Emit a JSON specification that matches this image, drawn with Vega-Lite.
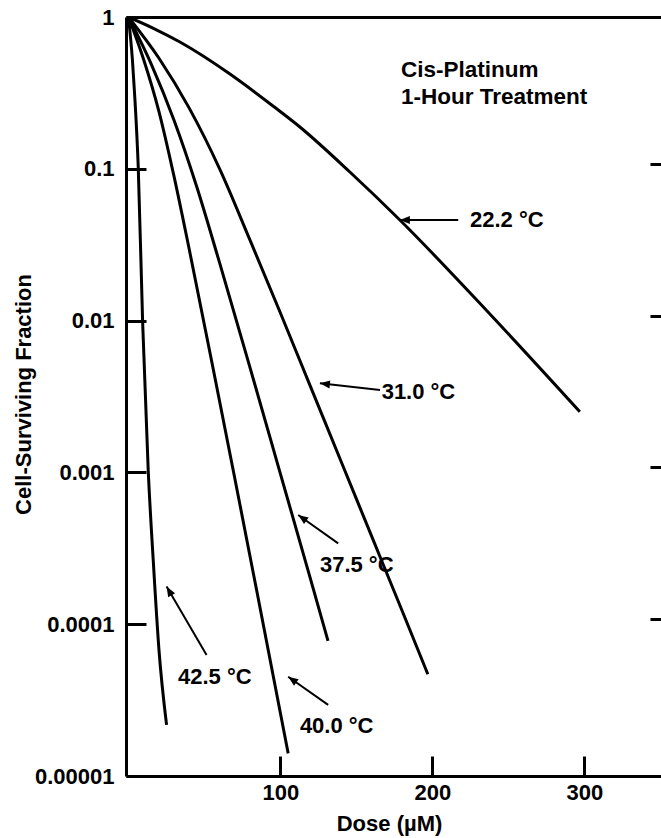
{
  "$schema": "https://vega.github.io/schema/vega-lite/v6.json",
  "width": 535,
  "height": 759,
  "autosize": {"type": "none"},
  "padding": {"left": 126, "top": 17, "right": 0, "bottom": 62},
  "background": "white",
  "config": {
    "view": {"stroke": null},
    "font": "Liberation Sans",
    "axis": {"grid": false, "domainColor": "black", "tickColor": "black", "labelColor": "black", "titleColor": "black"}
  },
  "datasets": {
    "curves": [
      {"temperature": "22.2", "dose": 0, "fraction": 1},
      {"temperature": "22.2", "dose": 16.1, "fraction": 0.846},
      {"temperature": "22.2", "dose": 33.9, "fraction": 0.684},
      {"temperature": "22.2", "dose": 66.8, "fraction": 0.421},
      {"temperature": "22.2", "dose": 95.1, "fraction": 0.2593},
      {"temperature": "22.2", "dose": 112.8, "fraction": 0.1886},
      {"temperature": "22.2", "dose": 145.7, "fraction": 0.0953},
      {"temperature": "22.2", "dose": 178.6, "fraction": 0.046},
      {"temperature": "22.2", "dose": 237.8, "fraction": 0.01105},
      {"temperature": "22.2", "dose": 297, "fraction": 0.00251},
      {"temperature": "31.0", "dose": 0, "fraction": 1},
      {"temperature": "31.0", "dose": 20, "fraction": 0.537},
      {"temperature": "31.0", "dose": 40, "fraction": 0.251},
      {"temperature": "31.0", "dose": 60, "fraction": 0.1},
      {"temperature": "31.0", "dose": 80, "fraction": 0.0339},
      {"temperature": "31.0", "dose": 100, "fraction": 0.01122},
      {"temperature": "31.0", "dose": 120, "fraction": 0.00363},
      {"temperature": "31.0", "dose": 140, "fraction": 0.001175},
      {"temperature": "31.0", "dose": 160, "fraction": 0.00038},
      {"temperature": "31.0", "dose": 180, "fraction": 0.000123},
      {"temperature": "31.0", "dose": 197, "fraction": 0.0000468},
      {"temperature": "37.5", "dose": 0, "fraction": 1},
      {"temperature": "37.5", "dose": 15, "fraction": 0.49},
      {"temperature": "37.5", "dose": 30, "fraction": 0.209},
      {"temperature": "37.5", "dose": 45, "fraction": 0.0759},
      {"temperature": "37.5", "dose": 60, "fraction": 0.024},
      {"temperature": "37.5", "dose": 80, "fraction": 0.0049},
      {"temperature": "37.5", "dose": 100, "fraction": 0.000977},
      {"temperature": "37.5", "dose": 120, "fraction": 0.000195},
      {"temperature": "37.5", "dose": 131.3, "fraction": 0.0000776},
      {"temperature": "40.0", "dose": 0, "fraction": 1},
      {"temperature": "40.0", "dose": 10, "fraction": 0.525},
      {"temperature": "40.0", "dose": 20, "fraction": 0.24},
      {"temperature": "40.0", "dose": 30, "fraction": 0.0891},
      {"temperature": "40.0", "dose": 40, "fraction": 0.0295},
      {"temperature": "40.0", "dose": 55, "fraction": 0.00525},
      {"temperature": "40.0", "dose": 70, "fraction": 0.000912},
      {"temperature": "40.0", "dose": 85, "fraction": 0.000155},
      {"temperature": "40.0", "dose": 105.1, "fraction": 0.0000141},
      {"temperature": "42.5", "dose": 0, "fraction": 1},
      {"temperature": "42.5", "dose": 2.63, "fraction": 0.521},
      {"temperature": "42.5", "dose": 4.3, "fraction": 0.284},
      {"temperature": "42.5", "dose": 6.45, "fraction": 0.103},
      {"temperature": "42.5", "dose": 9.34, "fraction": 0.0098},
      {"temperature": "42.5", "dose": 13.0, "fraction": 0.00104},
      {"temperature": "42.5", "dose": 16.3, "fraction": 0.000265},
      {"temperature": "42.5", "dose": 20.1, "fraction": 0.0000676},
      {"temperature": "42.5", "dose": 25.1, "fraction": 0.0000217}
    ],
    "notes": [
      {"label": "22.2 °C", "tip_dose": 178.6, "tip_fraction": 0.046, "tail_dose": 217.0, "tail_fraction": 0.046, "label_dose": 224.7, "label_fraction": 0.046},
      {"label": "31.0 °C", "tip_dose": 126.0, "tip_fraction": 0.00386, "tail_dose": 165.5, "tail_fraction": 0.00349, "label_dose": 166.6, "label_fraction": 0.0034},
      {"label": "37.5 °C", "tip_dose": 111.7, "tip_fraction": 0.000524, "tail_dose": 138.0, "tail_fraction": 0.000341, "label_dose": 126.0, "label_fraction": 0.000245},
      {"label": "42.5 °C", "tip_dose": 25.1, "tip_fraction": 0.000177, "tail_dose": 51.4, "tail_fraction": 0.0000627, "label_dose": 32.6, "label_fraction": 0.0000451},
      {"label": "40.0 °C", "tip_dose": 105.1, "tip_fraction": 0.0000451, "tail_dose": 131.4, "tail_fraction": 0.0000294, "label_dose": 112.8, "label_fraction": 0.0000213}
    ],
    "heading": [
      {"line": "Cis-Platinum", "dose": 179.3, "fraction": 0.448},
      {"line": "1-Hour Treatment", "dose": 179.3, "fraction": 0.297}
    ]
  },
  "layer": [
    {
      "data": {"name": "curves"},
      "mark": {"type": "line", "interpolate": "monotone", "strokeWidth": 3, "color": "black", "clip": true},
      "encoding": {
        "x": {
          "field": "dose", "type": "quantitative",
          "scale": {"domain": [-1.6, 350.4], "nice": false, "zero": false},
          "axis": {
            "orient": "bottom", "values": [100, 200, 300], "title": "Dose (µM)",
            "domainWidth": 3, "tickSize": -20, "tickWidth": 3, "labelPadding": 26, "labelFlush": false,
            "labelFont": "Liberation Sans", "labelFontSize": 22, "labelFontWeight": "bold",
            "titleFont": "Liberation Sans", "titleFontSize": 22, "titleFontWeight": "bold",
            "titleX": 263, "titleY": 47, "titleBaseline": "middle"
          }
        },
        "y": {
          "field": "fraction", "type": "quantitative",
          "scale": {"type": "log", "domain": [0.00001, 1], "nice": false},
          "axis": {
            "orient": "left", "values": [1, 0.1, 0.01, 0.001, 0.0001, 0.00001], "format": ".5~f",
            "title": "Cell-Surviving Fraction",
            "domainWidth": 3, "tickSize": -20, "tickWidth": 3, "labelPadding": 32,
            "labelFont": "Liberation Sans", "labelFontSize": 22, "labelFontWeight": "bold",
            "titleFont": "Liberation Sans", "titleFontSize": 22, "titleFontWeight": "bold",
            "titleX": -103, "titleY": 377, "titleAngle": -90, "titleAlign": "center", "titleBaseline": "middle"
          }
        },
        "detail": {"field": "temperature"}
      }
    },
    {
      "data": {"name": "notes"},
      "mark": {"type": "rule", "strokeWidth": 2, "color": "black"},
      "encoding": {
        "x": {
          "field": "tail_dose", "type": "quantitative",
          "scale": {"domain": [-1.6, 350.4], "nice": false, "zero": false},
          "axis": {"orient": "top", "title": null, "labels": false, "ticks": false, "domainWidth": 3}
        },
        "x2": {"field": "tip_dose"},
        "y": {
          "field": "tail_fraction", "type": "quantitative",
          "scale": {"type": "log", "domain": [0.00001, 1], "nice": false},
          "axis": {"orient": "right", "title": null, "labels": false, "domain": false, "values": [0.1, 0.01, 0.001, 0.0001], "tickSize": -11, "tickWidth": 3, "tickOffset": -5}
        },
        "y2": {"field": "tip_fraction"}
      }
    },
    {
      "data": {"name": "notes"},
      "transform": [
        {"calculate": "atan2((datum.tip_dose - datum.tail_dose) * 1.52, (log(datum.tip_fraction) - log(datum.tail_fraction)) / LN10 * 151.8) * 180 / PI", "as": "heading"}
      ],
      "mark": {"type": "point", "shape": "M0,0L0.8,2L-0.8,2Z", "filled": true, "size": 100, "color": "black", "opacity": 1, "strokeWidth": 0},
      "encoding": {
        "x": {"field": "tip_dose", "type": "quantitative", "axis": null},
        "y": {"field": "tip_fraction", "type": "quantitative", "axis": null},
        "angle": {"field": "heading", "type": "quantitative", "scale": null}
      }
    },
    {
      "data": {"name": "notes"},
      "mark": {"type": "text", "align": "left", "baseline": "middle", "font": "Liberation Sans", "fontSize": 22, "fontWeight": "bold", "color": "black"},
      "encoding": {
        "x": {"field": "label_dose", "type": "quantitative", "axis": null},
        "y": {"field": "label_fraction", "type": "quantitative", "axis": null},
        "text": {"field": "label"}
      }
    },
    {
      "data": {"name": "heading"},
      "mark": {"type": "text", "align": "left", "baseline": "middle", "font": "Liberation Sans", "fontSize": 22.5, "fontWeight": "bold", "color": "black"},
      "encoding": {
        "x": {"field": "dose", "type": "quantitative", "axis": null},
        "y": {"field": "fraction", "type": "quantitative", "axis": null},
        "text": {"field": "line"}
      }
    }
  ],
  "resolve": {"axis": {"x": "independent", "y": "independent"}}
}
